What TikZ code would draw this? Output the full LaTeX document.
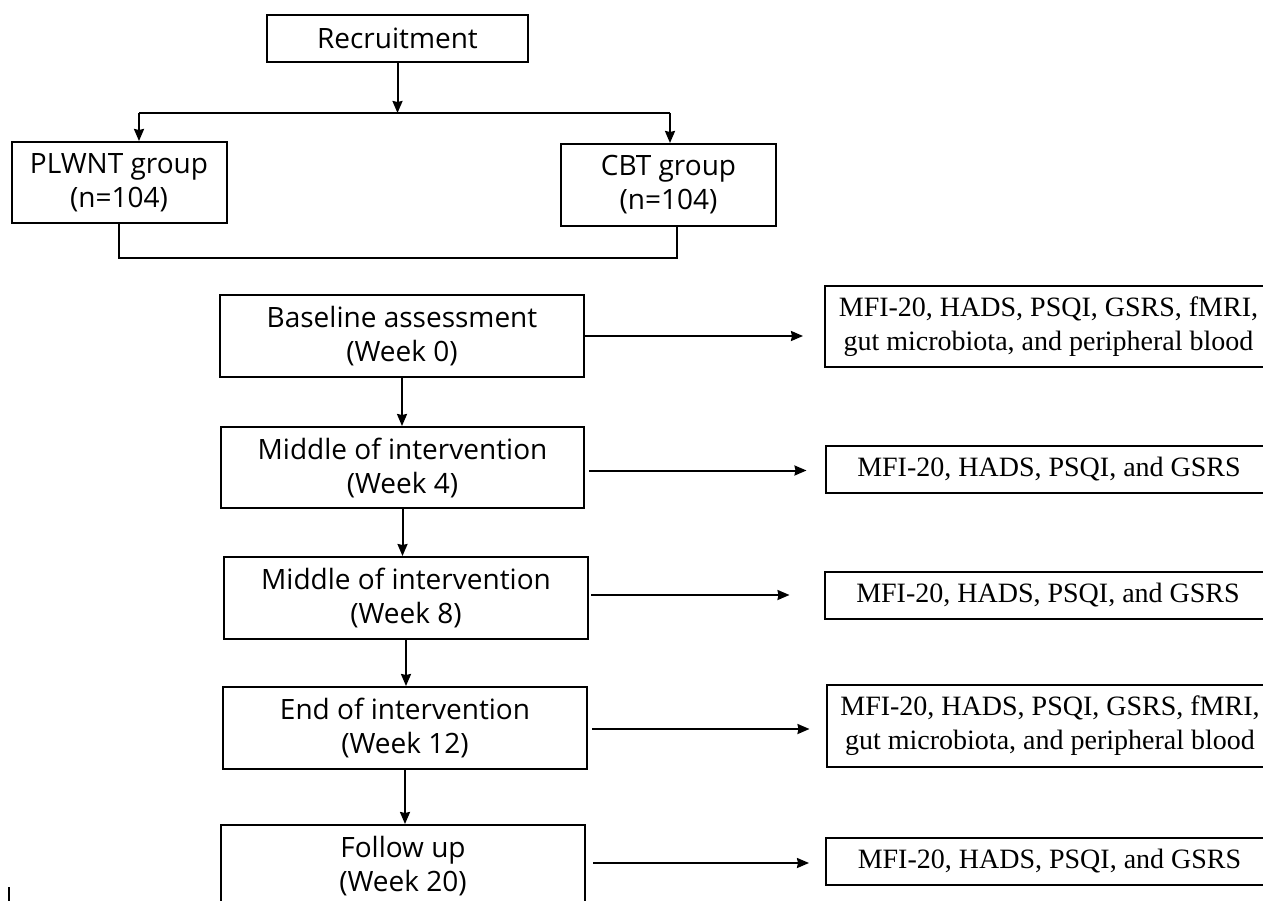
\documentclass[tikz,border=0pt]{standalone}
\usepackage{fontspec}
\setmainfont{Liberation Serif}
\newfontfamily\boxfont{Open Sans}
\usetikzlibrary{arrows.meta}
\begin{document}
\begin{tikzpicture}[x=1pt,y=-1pt,>={Stealth[length=12pt,width=10pt,inset=1pt]},line width=2pt,
	stage/.style={draw,align=center,inner sep=0pt,minimum width=364pt,minimum height=82pt,font=\boxfont\fontsize{28}{34}\selectfont},
	meas/.style={draw,align=center,inner sep=0pt,minimum width=447pt,minimum height=47pt,font=\fontsize{28}{34}\selectfont}]
	\clip (0,0) rectangle (1263,901);
	% recruitment and the two groups
	\node[stage,minimum width=261pt,minimum height=47pt] (recruit) at (397.5,38.5) {Recruitment};
	\node[stage,minimum width=215pt,minimum height=81pt] (plwnt) at (119,182.5) {PLWNT group\\(n=104)};
	\node[stage,minimum width=215pt,minimum height=82pt] (cbt) at (668.5,185) {CBT group\\(n=104)};
	\coordinate (splitL) at (139,113);
	\coordinate (splitR) at (670,113);
	\coordinate (joinR) at (677,258);
	\draw[->] (recruit.south) -- (recruit.south |- splitL);
	\draw (splitL) -- (splitR);
	\draw[->] (splitL) -- (splitL |- plwnt.north);
	\draw[->] (splitR) -- (splitR |- cbt.north);
	\draw (plwnt.south) |- (joinR) -- (joinR |- cbt.south);
	% time points
	\node[stage] (base) at (402,336) {Baseline assessment\\(Week 0)};
	\node[stage,minimum width=363pt,minimum height=81pt] (wk4) at (402.5,467.5) {Middle of intervention\\(Week 4)};
	\node[stage] (wk8) at (406,598) {Middle of intervention\\(Week 8)};
	\node[stage] (wk12) at (405,728) {End of intervention\\(Week 12)};
	\node[stage] (wk20) at (403,866) {Follow up\\(Week 20)};
	% measurements
	\node[meas,minimum height=81pt] (m0) at (1048.5,326.5) {MFI-20, HADS, PSQI, GSRS, fMRI,\\gut microbiota, and peripheral blood};
	\node[meas] (m4) at (1049,469.5) {MFI-20, HADS, PSQI, and GSRS};
	\node[meas] (m8) at (1048,595.5) {MFI-20, HADS, PSQI, and GSRS};
	\node[meas,minimum height=82pt] (m12) at (1050,726) {MFI-20, HADS, PSQI, GSRS, fMRI,\\gut microbiota, and peripheral blood};
	\node[meas] (m20) at (1049.5,861.5) {MFI-20, HADS, PSQI, and GSRS};
	\draw[->] (base) -- (base |- wk4.north);
	\draw[->] (wk4) -- (wk4 |- wk8.north);
	\draw[->] (wk8) -- (wk8 |- wk12.north);
	\draw[->] (wk12) -- (wk12 |- wk20.north);
	\draw[->,shorten >=21pt] (base.east) -- (base.east -| m0.west);
	\draw[->,shorten <=4pt,shorten >=18pt] ([yshift=-3pt]wk4.east) -- ([yshift=-3pt]wk4.east -| m4.west);
	\draw[->,shorten <=2pt,shorten >=34pt] ([yshift=3pt]wk8.east) -- ([yshift=3pt]wk8.east -| m8.west);
	\draw[->,shorten <=4pt,shorten >=16pt] ([yshift=-1pt]wk12.east) -- ([yshift=-1pt]wk12.east -| m12.west);
	\draw[->,shorten <=7pt,shorten >=16pt] ([yshift=3pt]wk20.east) -- ([yshift=3pt]wk20.east -| m20.west);
	\draw (9,887) -- (9,901);
\end{tikzpicture}
\end{document}
